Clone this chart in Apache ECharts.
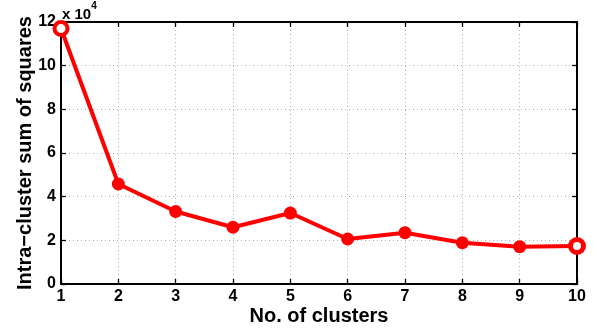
<!DOCTYPE html>
<html>
<head>
<meta charset="utf-8">
<script src="https://cdn.jsdelivr.net/npm/echarts@6/dist/echarts.min.js"></script>
<style>html,body{margin:0;padding:0;background:#fff}#c{width:598px;height:329px}</style>
</head>
<body>
<div id="c"></div>
<script>
var categories = [1, 2, 3, 4, 5, 6, 7, 8, 9, 10];
var sse = [117000, 45800, 33200, 26000, 32500, 20600, 23500, 18900, 17100, 17400];
var yTicks = [0, 20000, 40000, 60000, 80000, 100000, 120000];

var chart = echarts.init(document.getElementById('c'));
var font = '"Liberation Sans", Arial, sans-serif';
var data = sse.map(function (v, i) { return [categories[i], v]; });
var pts = data.map(function (d, i) {
  if (i === 0) {
    return { value: d, itemStyle: { color: '#fff', borderColor: '#ff0000', borderWidth: 4 } };
  }
  if (i === data.length - 1) {
    return { value: d, itemStyle: { color: '#fff', borderColor: '#ff0000', borderWidth: 5 } };
  }
  return { value: d };
});
var splitStyle = { show: true, lineStyle: { color: '#b0b0b0', type: [1, 3], width: 1 } };
var axLine = { show: true, onZero: false, lineStyle: { color: '#000', width: 2 } };
var axTick = { show: true, inside: true, length: 5, lineStyle: { color: '#000', width: 1.3 } };
var labelStyle = { fontSize: 16, fontWeight: 'bold', fontFamily: font, color: '#000' };
var nameStyle = { fontSize: 20, fontWeight: 'bold', fontFamily: font, color: '#000' };
chart.setOption({
  animation: false,
  grid: { left: 61, right: 21, top: 22, bottom: 45, containLabel: false, outerBoundsMode: 'none' },
  graphic: [{
    type: 'text', left: 62, top: 1,
    style: {
      text: '{a|x 10}{b|4}', fill: '#000',
      rich: { a: { fontSize: 15, fontWeight: 'bold', fontFamily: font, padding: [6, 0, 0, 0] },
              b: { fontSize: 10, fontWeight: 'bold', fontFamily: font, verticalAlign: 'top' } }
    }
  }],
  xAxis: [{
    type: 'value', min: 1, max: 10, interval: 1,
    name: 'No. of clusters', nameLocation: 'middle', nameGap: 22, nameMoveOverlap: false,
    nameTextStyle: nameStyle,
    axisLine: axLine, axisTick: axTick,
    axisLabel: Object.assign({ margin: 5 }, labelStyle),
    splitLine: splitStyle
  }, {
    type: 'value', min: 1, max: 10, interval: 1, position: 'top',
    axisLine: axLine, axisTick: axTick,
    axisLabel: { show: false }, splitLine: { show: false }
  }],
  yAxis: [{
    type: 'value', min: 0, max: 120000, interval: 20000,
    name: 'Intra\u2212cluster sum of squares', nameLocation: 'middle', nameGap: 26, nameMoveOverlap: false,
    nameTextStyle: nameStyle,
    axisLine: axLine, axisTick: axTick,
    axisLabel: Object.assign({ margin: 5,
      formatter: function (v) { return yTicks.indexOf(v) >= 0 ? String(v / 10000) : ''; } }, labelStyle),
    splitLine: splitStyle
  }, {
    type: 'value', min: 0, max: 120000, interval: 20000, position: 'right',
    axisLine: axLine, axisTick: axTick,
    axisLabel: { show: false }, splitLine: { show: false }
  }],
  series: [{
    type: 'line', data: pts, clip: false,
    symbol: 'circle', symbolSize: 13,
    lineStyle: { color: '#ff0000', width: 4 },
    itemStyle: { color: '#ff0000' }
  }]
});
</script>
</body>
</html>
